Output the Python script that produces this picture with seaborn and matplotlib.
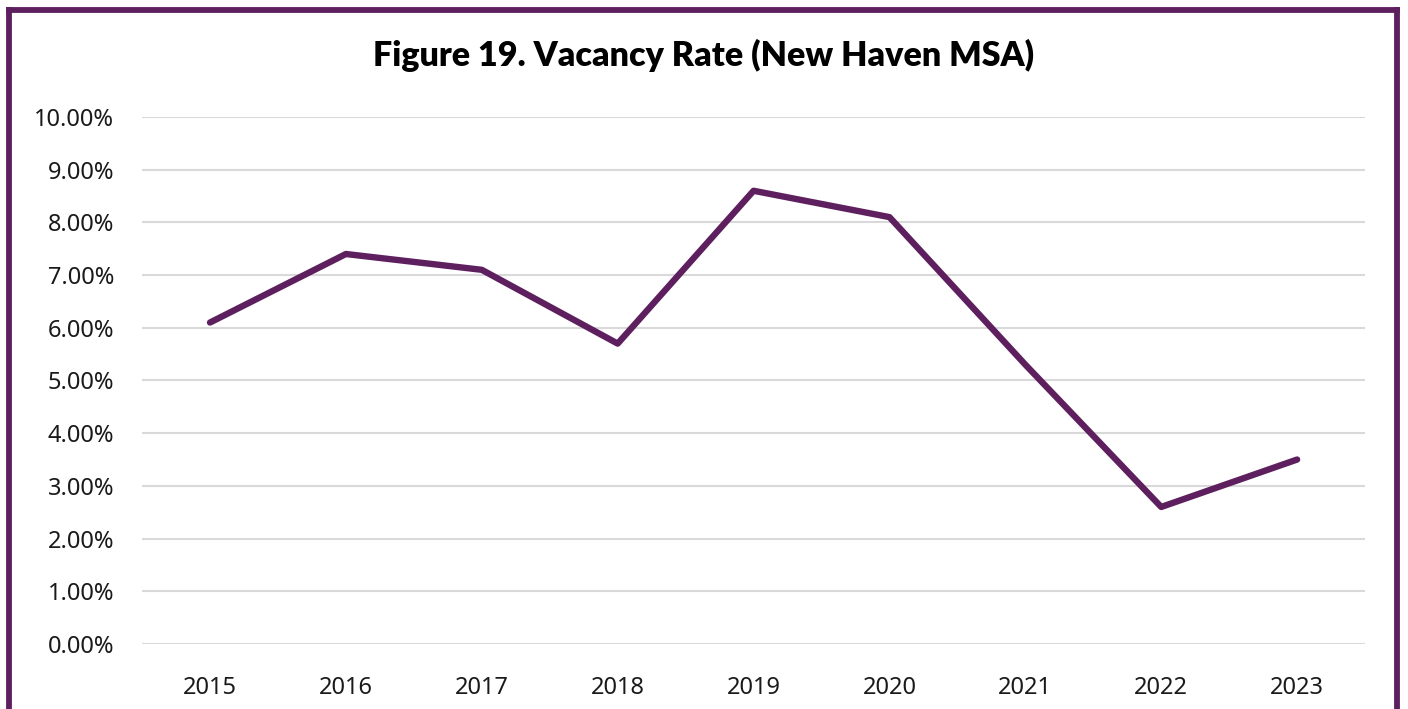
import pandas as pd
import matplotlib.pyplot as plt
import seaborn as sns
from matplotlib.lines import Line2D
from matplotlib.ticker import PercentFormatter

# ======================
# Data
# ======================
YEARS = [2015, 2016, 2017, 2018, 2019, 2020, 2021, 2022, 2023]
VACANCY_RATE = [6.1, 7.4, 7.1, 5.7, 8.6, 8.1, 5.3, 2.6, 3.5]
Y_TICKS = [0, 1, 2, 3, 4, 5, 6, 7, 8, 9, 10]

TITLE = "Figure 19. Vacancy Rate (New Haven MSA)"
PURPLE = "#5e1f5f"

# ======================
# Plot
# ======================
sns.set_style("white")
plt.rcParams["font.family"] = ["Noto Sans", "DejaVu Sans"]

df = pd.DataFrame({"year": YEARS, "rate": VACANCY_RATE})

fig = plt.figure(figsize=(14.08, 7.09), dpi=100)
ax = fig.add_axes([0.1009, 0.0917, 0.8686, 0.7433])

sns.lineplot(data=df, x="year", y="rate", color=PURPLE, linewidth=4.6, ax=ax)
ax.lines[0].set_solid_capstyle("round")

ax.set_xlim(YEARS[0] - 0.5, YEARS[-1] + 0.5)
ax.set_xticks(YEARS)
ax.set_xticklabels([str(y) for y in YEARS])
ax.set_ylim(0, 10)
ax.set_yticks(Y_TICKS)
ax.yaxis.set_major_formatter(PercentFormatter(decimals=2))
ax.grid(axis="y", color="#d9d9d9", linewidth=1.5)
ax.set_axisbelow(True)
ax.set_xlabel("")
ax.set_ylabel("")
sns.despine(ax=ax, left=True, bottom=True)
ax.tick_params(axis="both", length=0, labelsize=17, colors="#1a1a1a")
ax.tick_params(axis="x", pad=23)
ax.tick_params(axis="y", pad=20)

fig.text(0.5, 0.922, TITLE, ha="center", va="center", fontsize=24.5,
         fontweight="heavy", family=["Lato", "DejaVu Sans"], color="black")

# purple frame (bottom edge is cut off in the source)
for xs, ys in [([0.0067, 0.0067], [0.0, 0.9866]),
               ([0.0067, 0.9922], [0.9866, 0.9866]),
               ([0.9922, 0.9922], [0.0, 0.9866])]:
    fig.add_artist(Line2D(xs, ys, transform=fig.transFigure, color=PURPLE,
                          linewidth=4.2, solid_capstyle="projecting"))

fig.savefig("out.png", dpi=100)
